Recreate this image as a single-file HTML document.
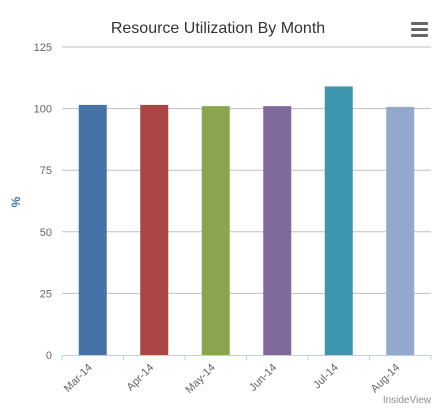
<!DOCTYPE html>
<html><head><meta charset="utf-8"><style>
body{margin:0;background:#fff;}
svg{display:block;font-family:"Liberation Sans",sans-serif;}
</style></head><body>
<svg width="440" height="419" viewBox="0 0 440 419">
<text x="218" y="33" text-anchor="middle" font-size="16" fill="#333">Resource Utilization By Month</text>
<g fill="#666">
<rect x="411" y="22" width="17" height="3" rx="1"/><rect x="411" y="28" width="17" height="3" rx="1"/><rect x="411" y="34" width="17" height="3" rx="1"/>
</g>
<g id="grid"></g><g id="bars"></g><g id="xaxis"></g>
<text transform="translate(20,202) rotate(-90)" text-anchor="middle" font-size="12" font-weight="bold" fill="#4572A7">%</text>
<text x="431" y="403" text-anchor="end" font-size="10" fill="#909090">InsideView</text>
</svg>
<script>
const categories=["Mar-14","Apr-14","May-14","Jun-14","Jul-14","Aug-14"];
const values=[101.5,101.5,101,101,109,100.7];
const colors=["#4572A7","#AA4643","#89A54E","#80699B","#3D96AE","#92A8CD"];
const yTicks=[0,25,50,75,100,125];
const NS="http://www.w3.org/2000/svg";
const L=62,R=431,T=47,B=355,yMax=125;
const y=v=>B-(v/yMax)*(B-T);
const cw=(R-L)/categories.length;
const x=i=>L+cw*i;
function mk(t,a,p){const e=document.createElementNS(NS,t);for(const k in a)e.setAttribute(k,a[k]);p.appendChild(e);return e;}
const g=document.getElementById('grid'),bg=document.getElementById('bars'),xg=document.getElementById('xaxis');
yTicks.forEach(v=>{
 if(v>0){const l=mk('line',{x1:L,x2:R,y1:y(v),y2:y(v),stroke:'#C0C0C0','stroke-width':1},g);
 
 }
 const t=mk('text',{x:52,y:y(v)+4,'text-anchor':'end','font-size':11,fill:'#666'},g);t.textContent=v;
 
 
});
values.forEach((v,i)=>{
 const r=mk('rect',{x:x(i)+cw/2-14,y:y(v),width:28,height:B-y(v),fill:colors[i]},bg);
 
 
});
const ax=mk('line',{x1:L,x2:R,y1:B+0.5,y2:B+0.5,stroke:'#C0D0E0','stroke-width':1},xg);


for(let i=0;i<=categories.length;i++){const tk=mk('line',{x1:x(i),x2:x(i),y1:B,y2:B+5,stroke:'#C0D0E0'},xg);
 
 }
categories.forEach((c,i)=>{
 const cx=x(i)+cw/2,cy=B+13;
 const t=mk('text',{x:cx,y:cy,'text-anchor':'end','font-size':11,fill:'#666',transform:`rotate(-45 ${cx} ${cy})`},xg);
 t.textContent=c;
 
 
});
</script>
</body></html>
